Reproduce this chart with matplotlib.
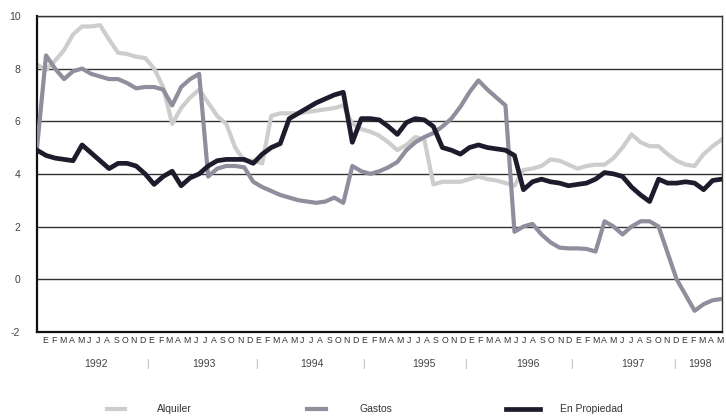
import numpy as np
import matplotlib.pyplot as plt
from matplotlib.lines import Line2D

plt.rcParams['font.family'] = ['Liberation Sans', 'DejaVu Sans']
plt.rcParams['axes.unicode_minus'] = False

# Datos mensuales, enero 1992 a mayo 1998
meses = ["E", "F", "M", "A", "M", "J", "J", "A", "S", "O", "N", "D"]
anios = ["1992", "1993", "1994", "1995", "1996", "1997", "1998"]
n_meses = 77

alquiler = [8.15, 7.95, 8.3, 8.7, 9.3, 9.6, 9.6, 9.65, 9.1, 8.6, 8.55, 8.45,
            8.4, 8.0, 7.3, 5.9, 6.5, 6.9, 7.2, 6.7, 6.2, 5.9, 5.0, 4.5,
            4.5, 4.4, 6.2, 6.3, 6.3, 6.3, 6.35, 6.4, 6.45, 6.5, 6.6, 5.9,
            5.7, 5.6, 5.45, 5.2, 4.9, 5.1, 5.4, 5.3, 3.6, 3.7, 3.7, 3.7,
            3.8, 3.9, 3.8, 3.75, 3.65, 3.55, 4.15, 4.2, 4.3, 4.55, 4.5, 4.35,
            4.2, 4.3, 4.35, 4.35, 4.6, 5.0, 5.5, 5.2, 5.05, 5.05, 4.75, 4.5,
            4.35, 4.3, 4.75, 5.05, 5.3]

gastos = [5.0, 8.5, 8.0, 7.6, 7.9, 8.0, 7.8, 7.7, 7.6, 7.6, 7.45, 7.25,
          7.3, 7.3, 7.2, 6.6, 7.3, 7.6, 7.8, 3.9, 4.2, 4.3, 4.3, 4.25,
          3.7, 3.5, 3.35, 3.2, 3.1, 3.0, 2.95, 2.9, 2.95, 3.1, 2.9, 4.3,
          4.1, 4.0, 4.1, 4.25, 4.45, 4.9, 5.2, 5.4, 5.55, 5.8, 6.1, 6.55,
          7.1, 7.55, 7.2, 6.9, 6.6, 1.8, 2.0, 2.1, 1.7, 1.4, 1.2, 1.17,
          1.17, 1.15, 1.05, 2.2, 2.0, 1.7, 2.0, 2.2, 2.2, 2.0, 1.0, 0.0,
          -0.6, -1.2, -0.95, -0.8, -0.75]

propiedad = [4.9, 4.7, 4.6, 4.55, 4.5, 5.1, 4.8, 4.5, 4.2, 4.4, 4.4, 4.3,
             4.0, 3.6, 3.9, 4.1, 3.55, 3.85, 4.0, 4.3, 4.5, 4.55, 4.55, 4.55,
             4.4, 4.75, 5.0, 5.15, 6.1, 6.3, 6.5, 6.7, 6.85, 7.0, 7.1, 5.2,
             6.1, 6.1, 6.05, 5.8, 5.5, 5.95, 6.1, 6.05, 5.8, 5.0, 4.9, 4.75,
             5.0, 5.1, 5.0, 4.95, 4.9, 4.7, 3.4, 3.7, 3.8, 3.7, 3.65, 3.55,
             3.6, 3.65, 3.8, 4.05, 4.0, 3.9, 3.5, 3.2, 2.95, 3.8, 3.65, 3.65,
             3.7, 3.65, 3.4, 3.75, 3.8]

x = np.arange(n_meses)

c_alq = "#cdcdcd"
c_gas = "#8e8e9c"
c_pro = "#1c1c2c"

fig = plt.figure(figsize=(7.26, 4.19), dpi=100)
ax = fig.add_axes([0.051, 0.208, 0.943, 0.754])

# lineas horizontales
for v in range(0, 11, 2):
    ax.axhline(v, color="#333333", lw=1.0, zorder=1)

ax.plot(x, alquiler, color=c_alq, lw=3.0, zorder=2)
ax.plot(x, gastos, color=c_gas, lw=3.0, zorder=3)
ax.plot(x, propiedad, color=c_pro, lw=3.4, zorder=4)

ax.set_xlim(0, n_meses - 1)
ax.set_ylim(-2, 10)
ax.set_yticks(range(-2, 11, 2))
ax.tick_params(axis="y", length=0, labelsize=7.5, colors="#444444", pad=12)
ax.set_xticks([])

for s in ["left", "bottom"]:
    ax.spines[s].set_linewidth(1.6)
    ax.spines[s].set_color("#111111")
for s in ["top", "right"]:
    ax.spines[s].set_linewidth(1.0)
    ax.spines[s].set_color("#333333")

# etiquetas de meses (un poco más juntas que los puntos)
tr = ax.get_xaxis_transform()
for i in range(n_meses):
    ax.text(0.89 + 0.9856 * i, -0.012, meses[i % 12], transform=tr, ha="center",
            va="top", fontsize=6.3, color="#333333", clip_on=False)

# etiquetas de años y separadores
pos_anios = [6.5, 18.5, 30.5, 43.0, 54.5, 66.2, 73.6]
pos_sep = [12.2, 24.4, 36.2, 47.6, 59.3, 70.7]
for anio, pos in zip(anios, pos_anios):
    ax.text(pos, -0.085, anio, transform=tr, ha="center", va="top",
            fontsize=7.5, color="#444444", clip_on=False)
for pos in pos_sep:
    ax.text(pos, -0.085, "|", transform=tr, ha="center", va="top",
            fontsize=7, color="#aaaaaa", clip_on=False)

# leyenda
W, H = 726, 419
leyenda = [("Alquiler", c_alq, 107, 125, 157, 3.0),
           ("Gastos", c_gas, 307, 326, 360, 3.0),
           ("En Propiedad", c_pro, 506, 540, 560, 3.4)]
for nombre, col, x0, x1, xt, lw in leyenda:
    fig.add_artist(Line2D([x0 / W, x1 / W], [1 - 409 / H, 1 - 409 / H],
                          color=col, lw=lw, transform=fig.transFigure))
    fig.text(xt / W, 1 - 409 / H, nombre, ha="left", va="center",
             fontsize=7.5, color="#333333")

plt.savefig("out.png", dpi=100)
